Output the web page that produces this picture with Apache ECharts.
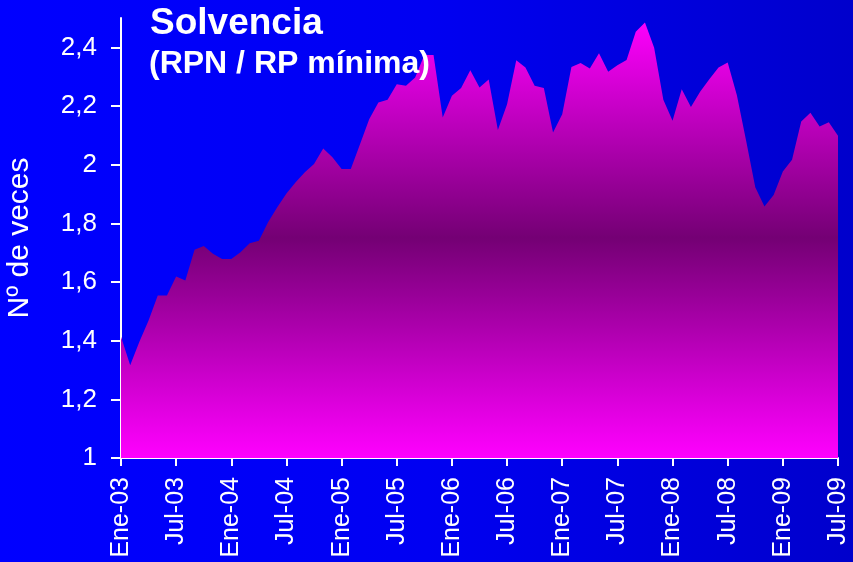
<!DOCTYPE html>
<html>
<head>
<meta charset="utf-8">
<script src="https://cdn.jsdelivr.net/npm/echarts@6/dist/echarts.min.js"></script>
<style>
html,body{margin:0;padding:0;}
#c{width:853px;height:562px;background:linear-gradient(to right,#0000ff 0%,#0000f2 50%,#0000cc 100%);}
</style>
</head>
<body>
<div id="c"></div>
<script>
var monthNames = ['Ene','Feb','Mar','Abr','May','Jun','Jul','Ago','Sep','Oct','Nov','Dic'];
var startYear = 2003;
var solvencia = [
  1.413,1.316,1.396,1.469,1.554,1.554,1.619,1.605,1.710,1.723,1.696,1.678,
  1.678,1.701,1.732,1.741,1.804,1.855,1.902,1.940,1.974,2.002,2.055,2.025,
  1.985,1.985,2.070,2.155,2.212,2.221,2.274,2.269,2.297,2.374,2.374,2.161,
  2.235,2.261,2.322,2.263,2.290,2.118,2.206,2.356,2.331,2.269,2.261,2.110,
  2.172,2.333,2.347,2.328,2.380,2.317,2.339,2.357,2.453,2.485,2.399,2.221,
  2.150,2.257,2.197,2.249,2.291,2.331,2.348,2.237,2.082,1.923,1.857,1.897,
  1.977,2.017,2.147,2.177,2.130,2.145,2.099
];
var yTicks = [1,1.2,1.4,1.6,1.8,2,2.2,2.4];

var categories = [];
for (var i = 0; i < solvencia.length; i++) {
  var m = i % 12, y = startYear + Math.floor(i / 12);
  categories.push(monthNames[m] + '-' + String(y % 100).padStart(2, '0'));
}

var font = "'Liberation Sans', Arial, sans-serif";
var chart = echarts.init(document.getElementById('c'), null, {renderer: 'canvas'});
chart.setOption({
  backgroundColor: 'transparent',
  animation: false,
  title: [
    {text: 'Solvencia', left: 150, top: 5, padding: 0,
     textStyle: {color: '#fff', fontSize: 37, fontWeight: 'bold', fontFamily: font}},
    {text: '(RPN / RP mínima)', left: 149, top: 48, padding: 0,
     textStyle: {color: '#fff', fontSize: 32, fontWeight: 'bold', fontFamily: font}}
  ],
  grid: {left: 121, right: 15, top: 18, bottom: 104, containLabel: false, outerBoundsMode: 'none'},
  xAxis: {
    type: 'category',
    data: categories,
    boundaryGap: false,
    axisLine: {lineStyle: {color: '#fff', width: 2}},
    axisTick: {interval: 5, length: 8, lineStyle: {color: '#fff', width: 2}},
    axisLabel: {interval: 5, rotate: 90, margin: 19, color: '#fff', fontSize: 25, fontFamily: font},
    splitLine: {show: false}
  },
  yAxis: {
    type: 'value',
    min: 1, max: 2.5,
    name: 'Nº de veces',
    nameLocation: 'middle',
    nameRotate: 90,
    nameGap: 86,
    nameTextStyle: {color: '#fff', fontSize: 30, fontFamily: font},
    axisLine: {show: true, lineStyle: {color: '#fff', width: 2}},
    axisTick: {show: true, length: 10, customValues: yTicks, lineStyle: {color: '#fff', width: 2}},
    axisLabel: {customValues: yTicks, margin: 24, color: '#fff', fontSize: 26, fontFamily: font,
      formatter: function (v) { return String(v).replace('.', ','); }},
    splitLine: {show: false}
  },
  series: [{
    type: 'line',
    data: solvencia,
    showSymbol: false,
    symbol: 'none',
    lineStyle: {width: 0},
    areaStyle: {
      opacity: 1,
      color: new echarts.graphic.LinearGradient(0, 18, 0, 458, [
        {offset: 0, color: '#ff00ff'},
        {offset: 0.5, color: '#740074'},
        {offset: 1, color: '#ff00ff'}
      ], true)
    }
  }]
});
</script>
</body>
</html>
